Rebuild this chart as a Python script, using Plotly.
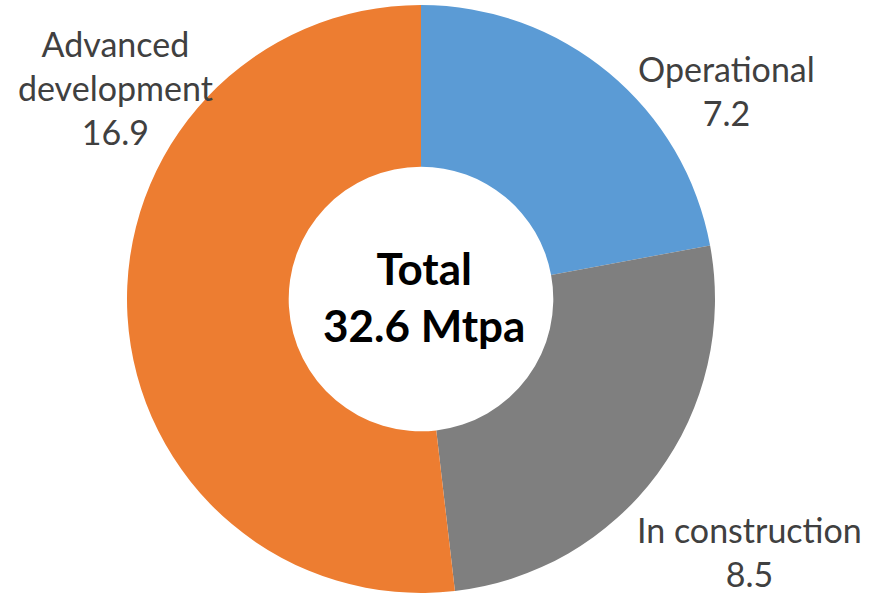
import plotly.graph_objects as go

labels = ["Operational", "In construction", "Advanced development"]
values = [7.2, 8.5, 16.9]
colors = ["#5B9BD5", "#7F7F7F", "#ED7D31"]
label_text = ["Operational", "In construction", "Advanced<br>development"]
total_label = "Total<br>32.6 Mtpa"

W, H = 869, 597

fig = go.Figure(go.Pie(
    labels=labels,
    values=values,
    marker=dict(colors=colors, line=dict(width=0)),
    hole=0.45,
    sort=False,
    direction="clockwise",
    rotation=0,
    textinfo="none",
    hoverinfo="label+value",
    showlegend=False,
    domain=dict(x=[(421 - 294) / W, (421 + 294) / W], y=[0, 1]),
))

# label positions (pixel centres)
pos = [(726, 87), (749, 555), (115, 84)]
for (px, py), t, v in zip(pos, label_text, values):
    fig.add_annotation(
        x=px / W, y=1 - py / H, xref="paper", yref="paper",
        text=f"{t}<br>{v}", showarrow=False,
        xanchor="center", yanchor="middle", align="center",
        font=dict(family="Lato, Carlito, sans-serif", size=34, color="#404040"),
    )

fig.add_annotation(
    x=424 / W, y=1 - 296 / H, xref="paper", yref="paper",
    text=f"<b>{total_label}</b>", showarrow=False,
    xanchor="center", yanchor="middle", align="center",
    font=dict(family="Lato, Carlito, sans-serif", size=44, color="#000000"),
)

fig.update_layout(
    width=W, height=H,
    margin=dict(l=0, r=0, t=5, b=4),
    paper_bgcolor="white", plot_bgcolor="white",
)

fig.write_html("out.html",
               config={"displayModeBar": False},
               post_script="document.body.style.margin='0px';document.body.style.overflow='hidden';")
